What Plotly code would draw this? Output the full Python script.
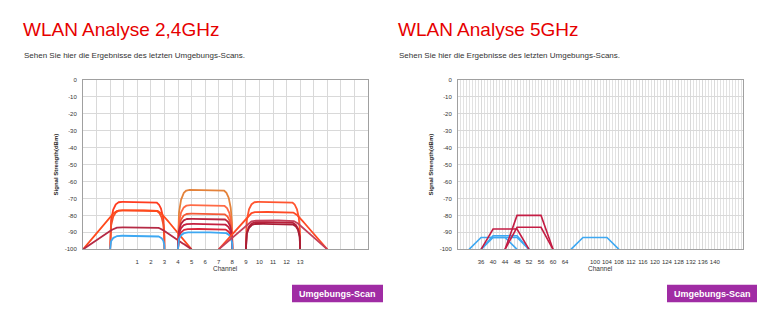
import numpy as np
import plotly.graph_objects as go

# ---------------- data ----------------
# 2.4 GHz scan: centre channel, signal level (dBm), channel width (MHz), line colour
NET24_CENTER = [1, 1, 1, 1, 1, 6, 6, 6, 6, 6, 6, 6, 11, 11, 11, 11, 11]
NET24_LEVEL = [-72, -77, -77, -87, -92, -65, -74, -79, -82, -85, -88, -90, -72, -78, -83, -84, -85]
NET24_WIDTH = [20, 20, 40, 40, 20, 20, 20, 20, 20, 20, 20, 20, 20, 40, 40, 20, 20]
NET24_COLOR = ["#ff3b1f", "#f5502a", "#ff4a1c", "#b52a45", "#3ea8f2",
               "#e4823a", "#ff6a45", "#f55a38", "#b8243f", "#c42040", "#d8253a", "#3ea8f2",
               "#ff5530", "#ff4a25", "#c4405a", "#b8203a", "#a81d35"]

# 5 GHz scan
NET5_CENTER = [40, 44, 44, 44, 52, 52, 100]
NET5_LEVEL = [-93, -92, -93, -88, -80, -87, -93]
NET5_WIDTH = [80, 80, 80, 80, 80, 80, 80]
NET5_COLOR = ["#3ea8f2", "#3ea8f2", "#3ea8f2", "#c41d44", "#c41d44", "#c41d44", "#3ea8f2"]

CH24_LABELS = list(range(1, 14))
CH5_LABELS = [36, 40, 44, 48, 52, 56, 60, 64, 100, 104, 108, 112, 116, 120, 124, 128, 132, 136, 140]
DBM_TICKS = [0, -10, -20, -30, -40, -50, -60, -70, -80, -90, -100]

# ---------------- helpers ----------------
W, H = 774, 324
FLOOR = -100


def px(x):
    return x / W


def py(y):
    return 1 - y / H


def pos5(ch):
    # the unused range between 64 and 100 is folded away on the 5 GHz axis
    return ch if ch <= 64 else ch - 26


def curve_20(center, level):
    half = 2.0
    d = np.linspace(-half, half, 401)
    a = 1.1
    t = np.clip((np.abs(d) - a) / (half - a), 0, 1)
    f = (1 - t ** 3) ** (1 / 3)
    return center + d, FLOOR + (level - FLOOR) * f


def curve_40(center, level):
    half = 4.0
    d = np.linspace(-half, half, 401)
    g = (half - np.abs(d)) / 2.4
    k = 0.05
    f = -k * np.log(np.exp(-g / k) + np.exp(-1 / k))
    f = np.clip(f, 0, 1)
    return center + d, FLOOR + (level - FLOOR) * f


def trapezoid(center_pos, level, width_mhz):
    half = width_mhz / 10.0
    xs = np.array([-half, -half / 2, half / 2, half]) + center_pos
    ys = np.array([FLOOR, level, level, FLOOR])
    return xs, ys


fig = go.Figure()

for c, lv, wd, col in zip(NET24_CENTER, NET24_LEVEL, NET24_WIDTH, NET24_COLOR):
    xs, ys = (curve_20 if wd == 20 else curve_40)(c, lv)
    fig.add_trace(go.Scatter(x=xs, y=ys, mode="lines", xaxis="x", yaxis="y",
                             line=dict(color=col, width=1.8), hoverinfo="skip",
                             showlegend=False, cliponaxis=True))

for c, lv, wd, col in zip(NET5_CENTER, NET5_LEVEL, NET5_WIDTH, NET5_COLOR):
    xs, ys = trapezoid(pos5(c), lv, wd)
    fig.add_trace(go.Scatter(x=xs, y=ys, mode="lines", xaxis="x2", yaxis="y2",
                             line=dict(color=col, width=1.6), hoverinfo="skip",
                             showlegend=False))

# ---------------- axes ----------------
PLOT_TOP, PLOT_BOTTOM = 78, 251
LEFT_X = (83, 368)
RIGHT_X = (458, 743)
GRID = "#d9d9d9"
FRAME = "#a0a0a0"
TICKFONT = dict(family="Liberation Sans, Arial, sans-serif", size=6, color="#333333")

ydom = [py(PLOT_BOTTOM), py(PLOT_TOP)]
yaxis_common = dict(
    range=[FLOOR, 0], tickmode="array", tickvals=DBM_TICKS,
    ticktext=[str(v) for v in DBM_TICKS], showgrid=True, gridcolor=GRID, gridwidth=1,
    zeroline=False, showline=True, linecolor=FRAME, linewidth=1, mirror=True,
    ticks="", tickfont=TICKFONT, ticklabelstandoff=4, fixedrange=True,
)
xaxis_common = dict(
    showgrid=True, gridcolor=GRID, gridwidth=1, zeroline=False, showline=True,
    linecolor=FRAME, linewidth=1, mirror=True, ticks="", tickfont=TICKFONT,
    ticklabelstandoff=6, tickangle=0, fixedrange=True,
)

fig.update_layout(
    width=W, height=H, autosize=False,
    margin=dict(l=0, r=0, t=0, b=0, pad=0),
    paper_bgcolor="white", plot_bgcolor="white",
    showlegend=False,
    xaxis=dict(domain=[px(LEFT_X[0]), px(LEFT_X[1])], anchor="y", range=[-3, 18],
               tickmode="array", tickvals=CH24_LABELS, ticktext=[str(c) for c in CH24_LABELS],
               minor=dict(dtick=1, tick0=0, showgrid=True, gridcolor=GRID, gridwidth=1),
               **xaxis_common),
    yaxis=dict(domain=ydom, anchor="x", **yaxis_common),
    xaxis2=dict(domain=[px(RIGHT_X[0]), px(RIGHT_X[1])], anchor="y2", range=[28.3, 123.4],
                tickmode="array", tickvals=[pos5(c) for c in CH5_LABELS],
                ticktext=[str(c) for c in CH5_LABELS],
                minor=dict(dtick=1, tick0=0, showgrid=True, gridcolor="#e2e2e2", gridwidth=1),
                **xaxis_common),
    yaxis2=dict(domain=ydom, anchor="x2", **yaxis_common),
)

# ---------------- page texts ----------------
RED = "#e60000"
TEXT = "#333333"
FONT = "Liberation Sans, Arial, sans-serif"
annotations = []


def text(x, y, s, size, color, xanchor="left", bold=False, angle=0):
    annotations.append(dict(
        x=px(x), y=py(y), xref="paper", yref="paper", text=f"<b>{s}</b>" if bold else s,
        showarrow=False, xanchor=xanchor, yanchor="middle", textangle=angle,
        font=dict(family=FONT, size=size, color=color),
    ))


for x0, title, (ax0, ax1), btn in [
    (22, "WLAN Analyse 2,4GHz", LEFT_X, (292, 383)),
    (397, "WLAN Analyse 5GHz", RIGHT_X, (667, 757)),
]:
    text(x0 - 1, 27.5, title, 19, RED)
    text(x0, 53, "Sehen Sie hier die Ergebnisse des letzten Umgebungs-Scans.", 8, TEXT)
    text(ax0 - 27, (PLOT_TOP + PLOT_BOTTOM) / 2, "Signal Strength(dBm)", 6, "#222222",
         xanchor="center", bold=True, angle=-90)
    text((ax0 + ax1) / 2, 271, "Channel", 6.5, TEXT, xanchor="center")
    fig.add_shape(type="rect", xref="paper", yref="paper",
                  x0=px(btn[0]), x1=px(btn[1]), y0=py(305), y1=py(287),
                  fillcolor="#a02ca4", line=dict(width=0), layer="above")
    text((btn[0] + btn[1]) / 2, 296, "Umgebungs-Scan", 9, "white", xanchor="center", bold=True)

fig.update_layout(annotations=annotations)

fig.write_html("out.html")
